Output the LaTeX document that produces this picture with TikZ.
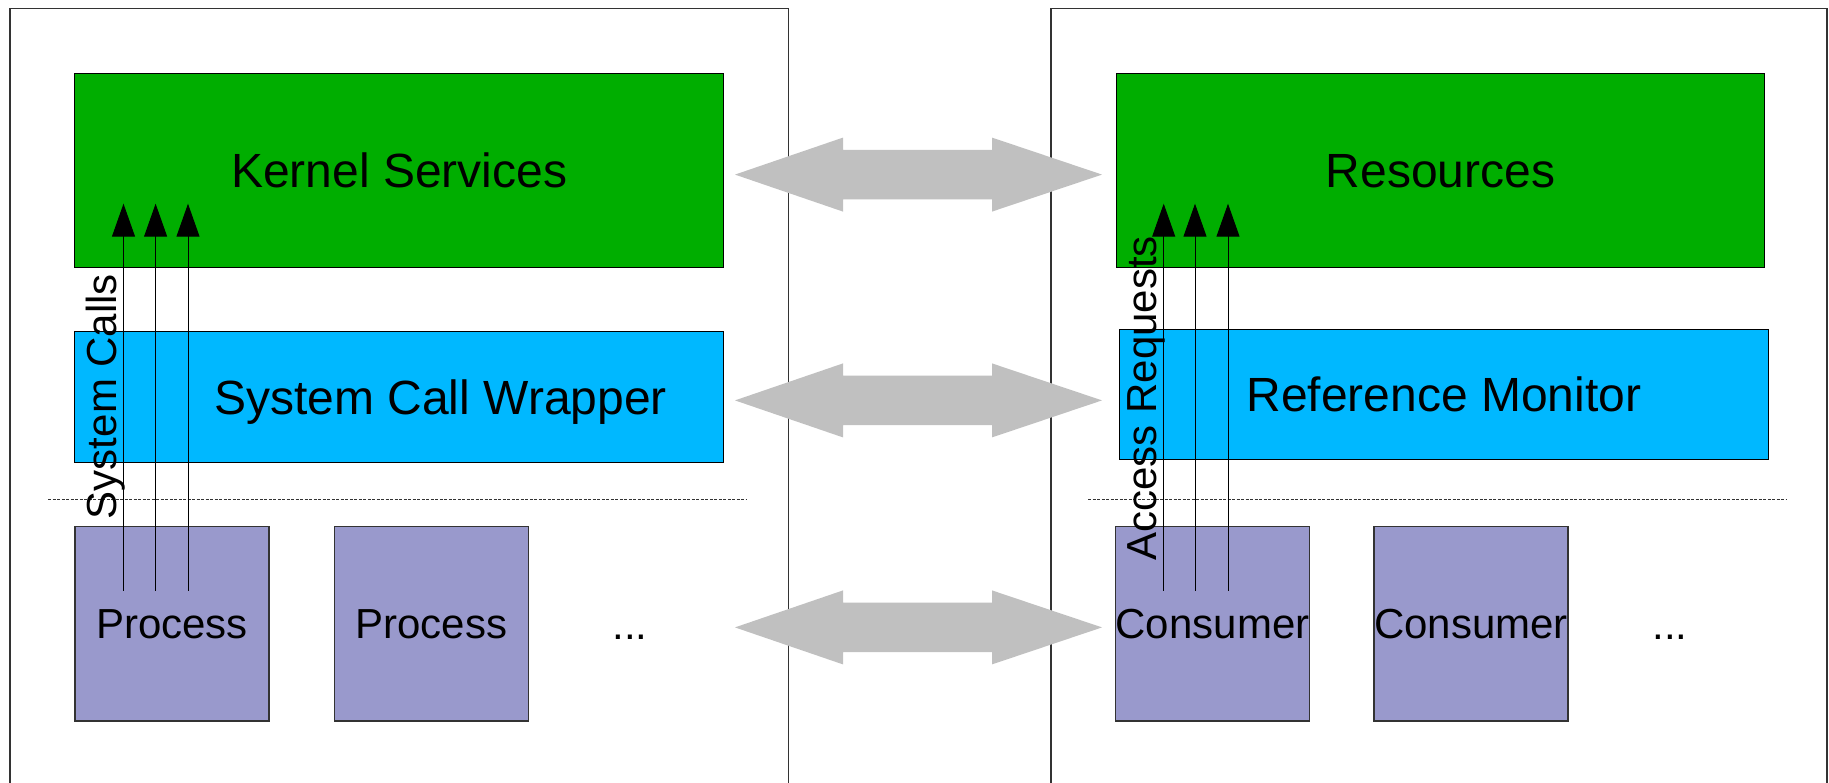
\documentclass[tikz,border=0pt]{standalone}
\usepackage{fontspec}
\setmainfont{Liberation Sans}
\usetikzlibrary{arrows.meta}
\definecolor{kgreen}{RGB}{0,174,0}
\definecolor{kcyan}{RGB}{0,184,255}
\definecolor{kpurple}{RGB}{153,153,204}
\definecolor{kgray}{RGB}{192,192,192}
\definecolor{kframe}{RGB}{51,51,51}
\tikzset{
  bigfont/.style={font=\fontsize{48}{56}\selectfont, text height=34.5pt, text depth=0pt, inner sep=0pt},
  smallfont/.style={font=\fontsize{42}{50}\selectfont, text height=30pt, text depth=0pt, inner sep=0pt},
  layerbox/.style={draw=black, line width=1pt, rectangle, bigfont},
  greenbox/.style={layerbox, fill=kgreen, minimum width=648.5pt, minimum height=194.3pt},
  cyanbox/.style={layerbox, fill=kcyan, minimum width=648.5pt, minimum height=130pt},
  procbox/.style={draw=kframe, line width=1.5pt, rectangle, fill=kpurple, smallfont, minimum width=194pt, minimum height=194.7pt},
  frameline/.style={draw=kframe, line width=1.5pt},
  sepline/.style={draw=kframe, line width=1.1pt, dash pattern=on 3pt off 1.5pt},
  callarrow/.style={draw=black, line width=1pt, -{Triangle[length=33pt,width=23pt]}},
  bigarrow/.style={fill=kgray, draw=none},
  rotlabel/.style={font=\fontsize{42}{50}\selectfont, rotate=90, anchor=base, inner sep=0pt},
  dots/.style={font=\fontsize{42}{50}\selectfont, anchor=base, inner sep=0pt}
}
\newcommand\dblarr[1]{%
  \fill[bigarrow] (735,#1) -- (843,#1-37) -- (843,#1-24.7) -- (992,#1-24.7) -- (992,#1-37)
    -- (1102,#1) -- (992,#1+37) -- (992,#1+24.7) -- (843,#1+24.7) -- (843,#1+37) -- cycle;}
\begin{document}
\begin{tikzpicture}[x=1pt,y=-1pt]
\useasboundingbox (0,0) rectangle (1829,783);
\fill[white] (0,0) rectangle (1829,783);
% frames
\draw[frameline] (10,790) -- (10,8.7) -- (788.5,8.7) -- (788.5,790);
\draw[frameline] (1051,790) -- (1051,8.7) -- (1827,8.7) -- (1827,790);
% big double arrows
\dblarr{174.6}
\dblarr{400.4}
\dblarr{627.4}
% left side
\node[greenbox] (kernel) at (399.2,170.5) {Kernel Services};
\node[cyanbox, label={[bigfont, xshift=41.4pt]center:System Call Wrapper}] (scw) at (399.2,397) {};
\draw[sepline] (48,499.6) -- (747,499.6);
\node[procbox] (p1) at (172,623.7) {Process};
\node[procbox] (p2) at (431.5,623.7) {Process};
\node[dots] (ldots) at (630,639) {...};
% right side
\node[greenbox] (res) at (1440.5,170.5) {Resources};
\node[cyanbox] (refmon) at (1444,394.3) {Reference Monitor};
\draw[sepline] (1088,499.6) -- (1787,499.6);
\node[procbox] (c1) at (1212.5,623.7) {Consumer};
\node[procbox] (c2) at (1471,623.7) {Consumer};
\node[dots] (rdots) at (1670,639) {...};
% call arrows left
\coordinate (ls1) at (123.5,590.7); \coordinate (le1) at (123.5,203.7);
\coordinate (ls2) at (155.6,590.7); \coordinate (le2) at (155.6,203.7);
\coordinate (ls3) at (188,590.7);   \coordinate (le3) at (188,203.7);
\draw[callarrow] (ls1) -- (le1);
\draw[callarrow] (ls2) -- (le2);
\draw[callarrow] (ls3) -- (le3);
\node[rotlabel] (syscalls) at (116,396.5) {System Calls};
% call arrows right
\coordinate (rs1) at (1163.7,590.7); \coordinate (re1) at (1163.7,203.7);
\coordinate (rs2) at (1195,590.7);   \coordinate (re2) at (1195,203.7);
\coordinate (rs3) at (1228,590.7);   \coordinate (re3) at (1228,203.7);
\draw[callarrow] (rs1) -- (re1);
\draw[callarrow] (rs2) -- (re2);
\draw[callarrow] (rs3) -- (re3);
\node[rotlabel] (accreq) at (1156,398.3) {Access Requests};
\end{tikzpicture}
\end{document}
